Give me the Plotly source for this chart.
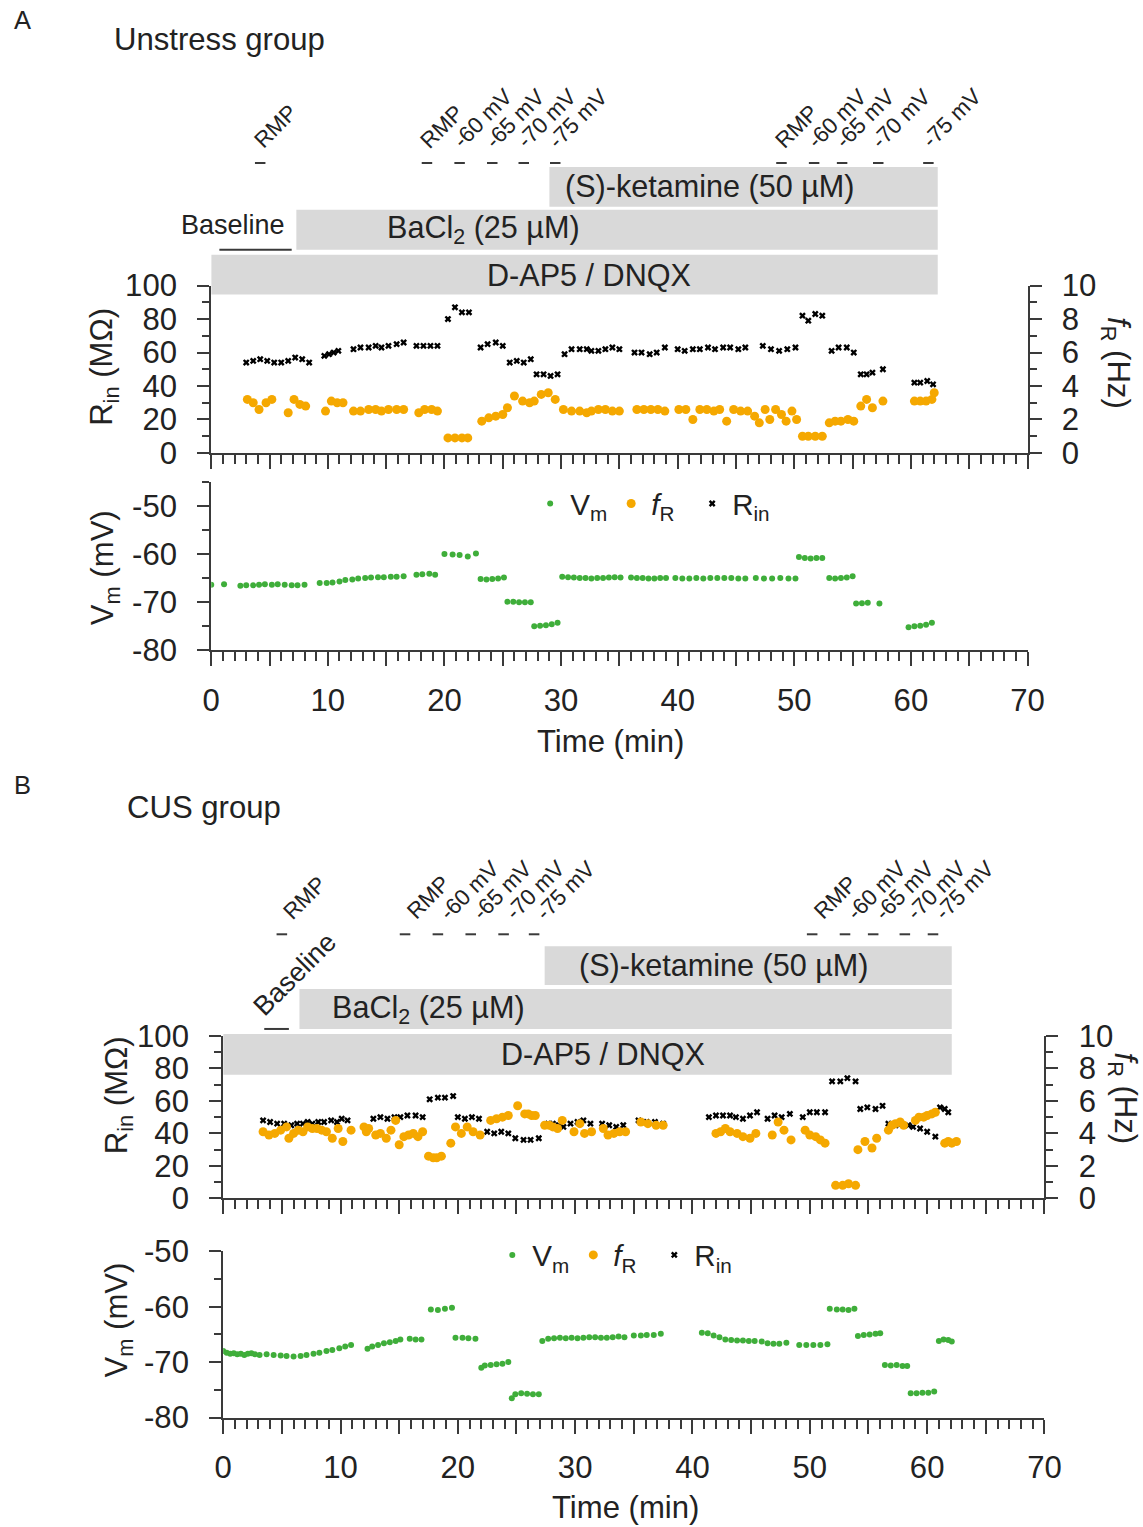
import plotly.graph_objects as go

W, H = 1143, 1527
FONT = "Liberation Sans, Arial, sans-serif"
TXT = "#222222"
AX = "#3a3a3a"
GREEN = "#3fae3a"
ORANGE = "#f5a800"
BARC = "#d9d9d9"

# ---------------- Panel A (Unstress) data ----------------
rin_A = [(3.0,54),(3.6,55),(4.2,56),(4.8,55),(5.4,54),(6.0,54),
         (6.6,55),(7.2,57),(7.8,56),(8.4,54),
         (9.7,58),(10.1,59),(10.5,60),(10.9,61),
         (12.2,62),(12.8,63),(13.5,63),(14.1,64),
         (14.6,63),(15.2,64),(15.9,65),(16.5,66),
         (17.6,64),(18.2,64),(18.8,64),(19.4,64),
         (20.3,80),(20.9,87),(21.5,84),(22.1,84),
         (23.1,63),(23.7,65),(24.4,66),(25.0,64),
         (25.6,54),(26.2,55),(26.8,54),(27.4,56),
         (27.9,47),(28.5,47),(29.1,46),(29.7,47),
         (30.3,59),(30.9,62),(31.6,62),(32.2,62),
         (32.6,61),(33.2,61),(33.8,62),(34.4,63),(35.0,62),
         (36.3,60),(36.9,60),(37.6,59),(38.2,60),(38.9,63),
         (40.0,62),(40.6,61),(41.3,62),(41.9,62),(42.6,63),(43.2,62),(43.9,63),(44.5,63),(45.2,62),(45.8,63),
         (47.3,64),(48.0,62),(48.7,61),(49.4,62),(50.1,63),
         (50.7,82),(51.2,79),(51.8,83),(52.4,82),
         (53.2,61),(53.8,63),(54.5,63),(55.1,60),
         (55.7,47),(56.2,47),(56.7,48),(57.6,50),
         (60.3,42),(60.8,42),(61.4,43),(61.9,41)]

fr_A = [(3.1,3.2),(3.6,3.0),(4.1,2.6),(4.7,3.0),(5.2,3.2),
        (6.6,2.4),(7.1,3.2),(7.6,2.9),(8.1,2.8),
        (9.8,2.5),(10.3,3.1),(10.8,3.0),(11.3,3.0),
        (12.2,2.5),(12.8,2.5),(13.5,2.6),(14.1,2.6),
        (14.6,2.5),(15.2,2.6),(15.9,2.6),(16.5,2.6),
        (17.8,2.4),(18.3,2.6),(18.9,2.6),(19.4,2.5),
        (20.3,0.9),(20.9,0.9),(21.5,0.9),(22.0,0.9),
        (23.2,1.9),(23.8,2.1),(24.4,2.2),(25.0,2.3),
        (25.4,2.7),(26.0,3.4),(26.7,3.1),(27.3,3.0),
        (27.7,3.1),(28.3,3.5),(28.9,3.6),(29.5,3.2),
        (30.2,2.6),(30.9,2.5),(31.6,2.5),(32.2,2.4),
        (32.6,2.5),(33.2,2.6),(33.8,2.6),(34.4,2.5),(35.0,2.5),
        (36.5,2.6),(37.1,2.6),(37.7,2.6),(38.3,2.6),(38.9,2.5),
        (40.1,2.6),(40.7,2.6),(41.3,2.0),(41.9,2.6),(42.5,2.6),(43.1,2.5),(43.6,2.6),(44.2,1.9),(44.8,2.6),(45.4,2.5),(46.0,2.5),
        (46.6,2.2),(47.0,1.8),(47.5,2.6),(47.9,2.0),(48.4,2.6),(48.9,2.3),(49.3,1.9),(49.8,2.5),(50.2,2.0),
        (50.7,1.0),(51.2,1.0),(51.8,1.0),(52.4,1.0),
        (53.0,1.8),(53.5,1.9),(54.0,1.9),(54.6,2.0),(55.1,1.9),
        (55.7,2.8),(56.2,3.2),(56.7,2.7),(57.6,3.1),
        (60.3,3.1),(60.8,3.1),(61.3,3.1),(61.8,3.2),(62.0,3.6)]

vm_A = [(0.0,-66.4),(1.1,-66.3),
        (2.5,-66.6),(3.0,-66.5),(3.6,-66.5),(4.1,-66.4),(4.6,-66.3),(5.2,-66.4),(5.7,-66.3),(6.3,-66.4),(6.9,-66.5),(7.4,-66.5),(8.0,-66.4),
        (9.3,-66.0),(9.9,-66.0),(10.4,-65.9),(11.0,-65.7),(11.5,-65.4),(12.1,-65.3),(12.6,-65.1),(13.2,-65.0),(13.7,-64.9),(14.3,-64.8),
        (14.8,-64.8),(15.4,-64.7),(15.9,-64.7),(16.5,-64.6),(17.6,-64.3),(18.1,-64.2),(18.7,-64.1),(19.2,-64.3),
        (20.0,-60.0),(20.7,-60.1),(21.3,-60.2),(22.0,-60.5),(22.7,-59.9),
        (23.1,-65.2),(23.6,-65.3),(24.1,-65.2),(24.6,-65.1),(25.1,-64.9),
        (25.4,-69.9),(25.9,-69.9),(26.4,-70.0),(26.9,-70.0),(27.4,-70.0),
        (27.7,-75.0),(28.2,-74.9),(28.7,-74.8),(29.2,-74.6),(29.7,-74.3),
        (30.1,-64.7),(30.6,-64.8),(31.1,-64.9),(31.6,-65.0),(32.1,-65.0),(32.6,-65.1),(33.1,-65.0),(33.6,-65.0),(34.1,-64.9),(34.6,-64.8),(35.1,-64.9),
        (36.0,-64.9),(36.5,-65.0),(37.0,-65.0),(37.5,-65.1),(38.0,-65.1),(38.5,-65.0),(39.0,-65.0),
        (39.8,-65.0),(40.4,-65.1),(41.0,-65.1),(41.6,-65.0),(42.2,-65.1),(42.8,-65.0),(43.4,-65.0),(44.0,-65.0),(44.6,-65.0),(45.2,-65.1),(45.8,-65.1),
        (46.7,-65.0),(47.4,-65.1),(48.1,-65.1),(48.8,-65.0),(49.5,-65.1),(50.1,-65.1),
        (50.4,-60.6),(50.9,-60.8),(51.4,-60.9),(51.9,-60.8),(52.4,-60.8),
        (53.0,-65.0),(53.5,-65.1),(54.0,-65.0),(54.5,-64.9),(55.0,-64.6),
        (55.3,-70.3),(55.8,-70.2),(56.3,-70.1),(57.3,-70.3),
        (59.8,-75.2),(60.3,-75.0),(60.8,-74.9),(61.3,-74.7),(61.8,-74.3)]

# ---------------- Panel B (CUS) data ----------------
rin_B = [(3.4,48),(4.0,47),(4.6,46),(5.2,46),
         (5.8,45),(6.3,46),(6.8,46),(7.2,47),
         (7.6,46),(8.1,47),(8.6,47),(9.2,48),(9.7,47),
         (10.1,49),(10.6,48),
         (12.8,49),(13.4,50),(14.0,49),(14.6,50),
         (15.1,50),(15.7,51),(16.4,51),(17.0,50),
         (17.6,61),(18.3,62),(18.9,62),(19.6,63),
         (20.0,50),(20.6,49),(21.2,50),(21.8,49),
         (22.5,41),(23.1,40),(23.7,41),(24.3,40),
         (24.9,37),(25.6,36),(26.2,36),(26.9,37),
         (27.7,46),(28.1,46),(28.6,45),(29.0,44),
         (29.6,46),(30.2,47),(30.7,48),(31.3,46),
         (32.3,46),(32.9,45),(33.5,44),(34.1,45),
         (35.4,48),(36.1,47),(36.8,47),(37.5,46),
         (41.4,50),(42.0,51),(42.6,51),(43.2,51),
         (43.7,50),(44.3,49),(44.9,51),(45.5,53),
         (46.4,49),(47.0,51),(47.6,50),(48.3,52),
         (49.4,50),(50.0,53),(50.6,53),(51.3,53),
         (51.9,72),(52.6,72),(53.2,74),(53.9,72),
         (54.3,55),(54.9,56),(55.6,55),(56.2,57),
         (56.7,46),(57.3,45),(57.8,46),(58.4,45),
         (58.8,44),(59.4,43),(60.0,41),(60.7,38),
         (61.1,56),(61.5,55),(61.8,53)]

fr_B = [(3.4,4.1),(3.9,3.9),(4.4,4.0),(4.9,4.2),(5.4,4.4),
        (5.6,3.7),(6.0,4.0),(6.4,4.2),(6.8,4.1),(7.2,4.4),(7.6,4.3),(8.0,4.3),(8.4,4.2),
        (8.8,4.1),(9.3,3.7),(9.8,4.3),
        (10.2,3.5),(10.9,4.2),
        (12.0,4.4),(12.2,4.1),(12.4,4.3),
        (13.0,3.9),(13.4,4.0),(13.9,3.7),(14.3,4.2),
        (14.7,4.8),(15.0,3.3),(15.4,3.8),(15.8,3.9),(16.2,4.0),(16.6,3.8),(17.0,4.1),
        (17.5,2.6),(17.9,2.5),(18.2,2.5),(18.6,2.6),
        (19.4,3.4),
        (19.8,4.4),(20.3,4.0),(20.8,4.4),(21.3,4.1),(21.9,3.9),
        (22.8,4.8),(23.3,4.9),(23.8,5.0),(24.3,5.1),
        (25.1,5.7),(25.7,5.2),(26.0,5.2),(26.3,5.1),(26.6,5.1),
        (27.4,4.5),(27.8,4.5),(28.1,4.4),(28.5,4.3),(28.9,4.8),
        (29.9,4.1),(30.4,4.6),(30.8,4.0),(31.4,4.1),
        (32.4,4.3),(32.8,3.9),(33.3,4.0),(33.8,4.1),(34.3,4.1),
        (35.6,4.7),(36.2,4.6),(36.9,4.5),(37.5,4.5),
        (42.0,4.0),(42.4,4.1),(42.8,4.3),(43.2,4.1),
        (43.8,4.0),(44.3,3.8),(44.9,3.7),(45.4,4.0),
        (46.8,3.9),(47.3,4.7),(47.8,4.2),(48.4,3.6),
        (49.6,4.2),(50.0,3.9),(50.5,3.8),(50.9,3.6),(51.3,3.4),
        (52.2,0.8),(52.8,0.8),(53.3,0.9),(53.9,0.8),
        (54.1,3.0),(54.7,3.5),(55.3,3.1),(55.7,3.7),
        (56.7,4.2),(57.0,4.5),(57.3,4.6),(57.7,4.7),(58.0,4.5),
        (59.0,4.8),(59.3,5.0),(59.7,5.0),(60.0,5.1),(60.4,5.2),(60.7,5.3),
        (61.5,3.4),(61.8,3.5),(62.1,3.4),(62.5,3.5)]

vm_B = [(0.0,-68.0),(0.3,-68.3),(0.6,-68.5),(0.9,-68.4),(1.2,-68.6),(1.5,-68.5),(1.8,-68.7),(2.1,-68.5),(2.4,-68.4),(2.7,-68.6),(3.1,-68.7),
        (3.7,-68.6),(4.3,-68.7),(4.9,-68.8),(5.4,-68.9),(6.0,-69.0),(6.6,-68.9),(7.1,-68.7),(7.7,-68.5),(8.2,-68.3),(8.8,-68.0),(9.3,-67.8),(9.9,-67.5),(10.4,-67.2),(10.9,-66.9),
        (12.3,-67.6),(12.7,-67.2),(13.2,-66.9),(13.7,-66.6),(14.2,-66.4),(14.7,-66.2),(15.1,-65.9),(15.9,-65.8),(16.4,-65.9),(16.9,-65.9),
        (17.7,-60.5),(18.3,-60.6),(18.9,-60.4),(19.5,-60.2),
        (19.8,-65.6),(20.4,-65.6),(20.9,-65.7),(21.5,-65.8),
        (22.0,-71.0),(22.3,-70.6),(22.8,-70.5),(23.3,-70.4),(23.8,-70.3),(24.3,-70.0),
        (24.6,-76.5),(24.9,-75.8),(25.4,-75.6),(25.9,-75.7),(26.4,-75.8),(26.9,-75.8),
        (27.2,-66.2),(27.7,-65.8),(28.2,-65.7),(28.7,-65.6),(29.2,-65.7),(29.7,-65.6),(30.2,-65.7),(30.7,-65.6),(31.2,-65.5),(31.7,-65.5),(32.2,-65.6),(32.7,-65.6),(33.2,-65.5),(33.7,-65.4),(34.2,-65.5),
        (35.0,-65.2),(35.6,-65.2),(36.1,-65.1),(36.7,-65.1),(37.3,-64.9),
        (40.8,-64.7),(41.3,-64.8),(41.8,-65.2),(42.3,-65.5),(42.8,-65.9),(43.3,-66.0),(43.8,-66.1),(44.3,-66.1),(44.8,-66.2),(45.3,-66.2),(45.9,-66.3),(46.4,-66.6),(46.9,-66.7),(47.4,-66.7),(48.0,-66.5),
        (49.1,-66.9),(49.7,-66.9),(50.3,-66.9),(50.9,-66.9),(51.5,-66.8),
        (51.7,-60.4),(52.3,-60.5),(52.8,-60.5),(53.3,-60.6),(53.8,-60.4),
        (54.1,-65.3),(54.6,-65.1),(55.1,-65.0),(55.6,-64.9),(56.0,-64.8),
        (56.4,-70.5),(56.9,-70.6),(57.4,-70.5),(57.9,-70.7),(58.3,-70.7),
        (58.6,-75.6),(59.1,-75.6),(59.6,-75.5),(60.1,-75.5),(60.6,-75.3),
        (61.0,-66.2),(61.4,-65.9),(61.8,-66.0),(62.1,-66.3)]

# treatments (start, end, label)
treat_A = [(0.0, 62.3, "D-AP5 / DNQX"), (7.3, 62.3, "BaCl<sub>2</sub> (25 µM)"), (29.0, 62.3, "(S)-ketamine (50 µM)")]
treat_B = [(0.0, 62.1, "D-AP5 / DNQX"), (6.5, 62.1, "BaCl<sub>2</sub> (25 µM)"), (27.4, 62.1, "(S)-ketamine (50 µM)")]
baseline_A = (0.7, 6.9)
baseline_B = (3.5, 5.6)
stim_labels = ["RMP", "RMP", "-60 mV", "-65 mV", "-70 mV", "-75 mV", "RMP", "-60 mV", "-65 mV", "-70 mV", "-75 mV"]
stim_A = [4.2, 18.5, 21.3, 24.1, 26.8, 29.5, 48.9, 51.7, 54.1, 57.2, 61.5]
stim_B = [5.0, 15.5, 18.3, 21.1, 23.9, 26.5, 50.2, 53.0, 55.4, 58.1, 60.5]

# the viewer shows the page slightly scaled/offset; compensate
S, OX, OY = 0.9805, 7.1, 14.5
def px(x): return ((x - OX) / S) / W
def py(y): return 1 - ((y - OY) / S) / H
def fs(s): return s / S

fig = go.Figure()

def xy(pairs):
    return [p[0] for p in pairs], [p[1] for p in pairs]

def add_panel(xa, ya_up, ya_r, ya_lo, xa_lo, rin, fr, vm, leg):
    x, y = xy(vm)
    fig.add_trace(go.Scatter(x=x, y=y, mode="markers", xaxis=xa_lo, yaxis=ya_lo,
                             marker=dict(color=GREEN, size=6), name="V<sub>m</sub>", legend=leg))
    x, y = xy(fr)
    fig.add_trace(go.Scatter(x=x, y=y, mode="markers", xaxis=xa, yaxis=ya_r,
                             marker=dict(color=ORANGE, size=9), name="<i>f</i><sub>R</sub>", legend=leg))
    x, y = xy(rin)
    fig.add_trace(go.Scatter(x=x, y=y, mode="markers", xaxis=xa, yaxis=ya_up,
                             marker=dict(color="black", size=6, symbol="x"), name="R<sub>in</sub>", legend=leg))

add_panel("x", "y", "y2", "y3", "x2", rin_A, fr_A, vm_A, "legend")
add_panel("x3", "y4", "y5", "y6", "x4", rin_B, fr_B, vm_B, "legend2")

xt_vals = list(range(0, 71, 5))
xt_text = [str(v) if v % 10 == 0 else "" for v in xt_vals]
minor_x = [v for v in range(0, 71) if v % 5]
tickfont = dict(family=FONT, size=fs(30.5), color=TXT)

def xaxis(domain, anchor, labels):
    return dict(domain=domain, anchor=anchor, range=[0, 70], showline=True, linecolor=AX, linewidth=2,
                ticks="outside", tickvals=xt_vals, ticktext=xt_text if labels else [""] * len(xt_vals),
                ticklen=14, tickwidth=2, tickcolor=AX, showgrid=False, zeroline=False,
                tickfont=tickfont, ticklabelstandoff=7,
                minor=dict(tickvals=minor_x, ticklen=9, tickwidth=2, tickcolor=AX, ticks="outside", showgrid=False))

def yaxis(domain, anchor, rng, tv, mv, side="left", overlay=None):
    d = dict(domain=domain, anchor=anchor, range=rng, showline=True, linecolor=AX, linewidth=2,
             ticks="outside", tickvals=tv, ticktext=[str(v) for v in tv], ticklen=12, tickwidth=2,
             tickcolor=AX, showgrid=False, zeroline=False, tickfont=tickfont, side=side,
             ticklabelstandoff=14,
             minor=dict(tickvals=mv, ticklen=7, tickwidth=2, tickcolor=AX, ticks="outside", showgrid=False))
    if overlay:
        d["overlaying"] = overlay
        d.pop("domain")
    return d

xA = [px(210), px(1029)]
xB = [px(222), px(1046)]
fig.update_layout(
    xaxis=xaxis(xA, "y", False),
    xaxis2=xaxis(xA, "y3", True),
    xaxis3=xaxis(xB, "y4", False),
    xaxis4=xaxis(xB, "y6", True),
    yaxis=yaxis([py(452), py(284)], "x", [0, 100], [0, 20, 40, 60, 80, 100], [10, 30, 50, 70, 90]),
    yaxis2=yaxis(None, "x", [0, 10], [0, 2, 4, 6, 8, 10], [1, 3, 5, 7, 9], side="right", overlay="y"),
    yaxis3=yaxis([py(650), py(481)], "x2", [-80, -45], [-80, -70, -60, -50], [-75, -65, -55, -45]),
    yaxis4=yaxis([py(1200), py(1037)], "x3", [0, 100], [0, 20, 40, 60, 80, 100], [10, 30, 50, 70, 90]),
    yaxis5=yaxis(None, "x3", [0, 10], [0, 2, 4, 6, 8, 10], [1, 3, 5, 7, 9], side="right", overlay="y4"),
    yaxis6=yaxis([py(1420), py(1253)], "x4", [-80, -50], [-80, -70, -60, -50], [-75, -65, -55]),
)

legfont = dict(family=FONT, size=fs(29), color=TXT)
fig.update_layout(
    legend=dict(orientation="h", x=px(530), y=py(503), xanchor="left", yanchor="middle",
                font=legfont, bgcolor="rgba(0,0,0,0)", itemsizing="trace", traceorder="normal",
                entrywidth=36, entrywidthmode="pixels"),
    legend2=dict(orientation="h", x=px(492), y=py(1257), xanchor="left", yanchor="middle",
                 font=legfont, bgcolor="rgba(0,0,0,0)", itemsizing="trace", traceorder="normal",
                 entrywidth=36, entrywidthmode="pixels"),
)

shapes = []
annos = []

def txt(x, y, s, size=30.5, xref="paper", angle=0, xanchor="center", yanchor="middle", color=TXT):
    annos.append(dict(x=x, y=y, xref=xref, yref="paper", text=s, showarrow=False, textangle=angle,
                      xanchor=xanchor, yanchor=yanchor, font=dict(family=FONT, size=fs(size), color=color)))

def bars(xref, treat, rows, textx):
    for (s, e, lab), (y0, y1), tx in zip(treat, rows, textx):
        shapes.append(dict(type="rect", xref=xref, yref="paper", x0=s, x1=e, y0=py(y1), y1=py(y0),
                           fillcolor=BARC, line=dict(width=0), layer="above"))
        txt(px(tx), py((y0 + y1) / 2), lab, size=30)

bars("x", treat_A, [(253, 293), (208, 248), (165, 205)], [589, 483, 710])
bars("x3", treat_B, [(1035, 1076), (990, 1030), (947, 986)], [603, 428, 724])

# Baseline
shapes.append(dict(type="line", xref="x", yref="paper", x0=baseline_A[0], x1=baseline_A[1],
                   y0=py(248), y1=py(248), line=dict(color=AX, width=2)))
txt(px(232), py(223), "Baseline", size=26.5)
shapes.append(dict(type="line", xref="x3", yref="paper", x0=baseline_B[0], x1=baseline_B[1],
                   y0=py(1030), y1=py(1030), line=dict(color=AX, width=2)))
txt(px(294), py(975), "Baseline", size=26.5, angle=-45)

def stims(xref, times, ydash, shift):
    for t, lab in zip(times, stim_labels):
        shapes.append(dict(type="line", xref=xref, yref="paper", x0=t - 0.45, x1=t + 0.45,
                           y0=py(ydash), y1=py(ydash), line=dict(color=AX, width=2)))
        txt(t - shift, py(ydash - 7), lab, size=22, xref=xref, angle=-45, xanchor="left", yanchor="bottom")

stims("x", stim_A, 161, 1.2)
stims("x3", stim_B, 935, 0.5)

# axis titles
txt(px(103), py(366), "R<sub>in</sub> (MΩ)", angle=-90)
txt(px(103), py(567), "V<sub>m</sub> (mV)", angle=-90)
txt(px(1117), py(362), "<i>f</i><sub>R</sub> (Hz)", angle=90)
txt(px(611), py(742), "Time (min)")
txt(px(117), py(1097), "R<sub>in</sub> (MΩ)", angle=-90)
txt(px(117), py(1322), "V<sub>m</sub> (mV)", angle=-90)
txt(px(1125), py(1100), "<i>f</i><sub>R</sub> (Hz)", angle=90)
txt(px(626), py(1510), "Time (min)")

# panel labels
txt(px(21), py(18), "A", size=25)
txt(px(110), py(37), "Unstress group", size=30.5, xanchor="left")
txt(px(21), py(785), "B", size=25)
txt(px(123), py(808), "CUS group", size=30.5, xanchor="left")

fig.update_layout(shapes=shapes, annotations=annos, width=W, height=H,
                  margin=dict(l=0, r=0, t=0, b=0), plot_bgcolor="white", paper_bgcolor="white",
                  font=dict(family=FONT, color=TXT))

fig.write_html("out.html")
